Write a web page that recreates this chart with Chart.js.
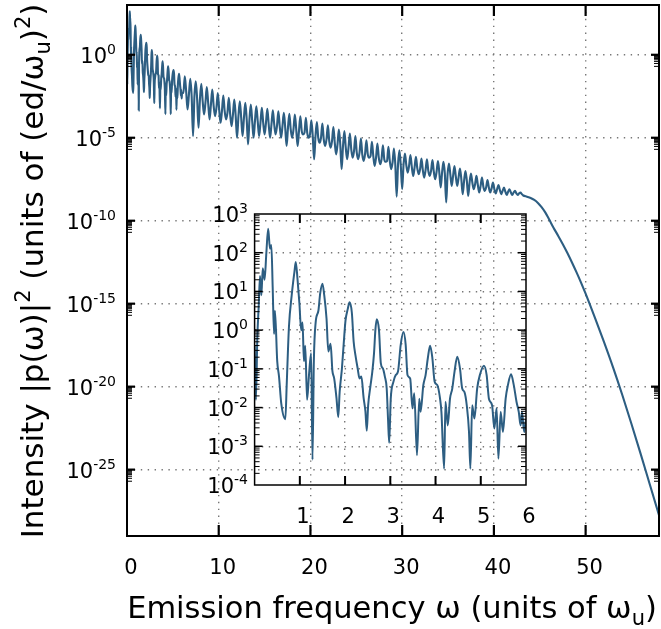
<!DOCTYPE html>
<html>
<head>
<meta charset="utf-8">
<script src="https://cdn.jsdelivr.net/npm/chart.js@4.4.1/dist/chart.umd.min.js"></script>
<style>
  html, body { margin: 0; padding: 0; background: #fff; }
  #wrap { position: relative; width: 661px; height: 629px; }
  canvas { position: absolute; left: 0; top: 0; }
</style>
</head>
<body>
<div id="wrap">
  <canvas id="mainChart" width="661" height="629"></canvas>
  <canvas id="insetChart" width="661" height="629"></canvas>
</div>
<script>
// emission frequency (units of w_u) and log10 of the intensity

// 0..6 (same curve, zoomed)
const insetX = [0,0.03,0.06,0.09,0.12,0.15,0.18,0.22,0.26,0.3,
  0.34,0.37,0.4,0.43,0.45,0.5,0.54,0.59,0.68,0.71,
  0.76,0.82,0.88,0.91,0.95,0.99,1.03,1.06,1.09,1.12,
  1.16,1.2,1.25,1.28,1.31,1.35,1.41,1.45,1.5,1.54,
  1.59,1.63,1.68,1.72,1.76,1.81,1.85,1.88,1.93,1.97,
  2.01,2.06,2.1,2.15,2.19,2.23,2.28,2.32,2.36,2.41,
  2.45,2.48,2.51,2.56,2.6,2.64,2.67,2.7,2.75,2.79,
  2.84,2.88,2.92,2.95,2.975,3.01,3.07,3.12,3.17,3.23,
  3.29,3.34,3.38,3.44,3.49,3.53,3.59,3.64,3.67,3.73,
  3.78,3.83,3.88,3.93,3.98,4.04,4.1,4.13,4.19,4.22,
  4.27,4.32,4.37,4.42,4.48,4.54,4.59,4.64,4.69,4.74,
  4.77,4.81,4.86,4.92,4.98,5.07,5.13,5.18,5.25,5.3,
  5.35,5.39,5.44,5.49,5.55,5.6,5.67,5.73,5.79,5.84,
  5.88,5.91,5.96,6.0];
const insetExp = [-0.4,-1.8,-0.2,0.6,1.4,0.9,1.6,1.3,2.0,2.62,
  2.1,2.2,1.1,-0.1,0.5,-0.8,-1.2,-1.9,-2.3,-1.4,
  0.1,0.9,1.5,1.76,1.3,0.7,0.0,0.2,-0.8,-0.4,
  -1.8,-1.2,-0.6,-3.35,-0.8,0.2,0.5,0.95,1.2,0.9,
  0.3,-0.55,-0.35,-1.05,-1.25,-1.75,-2.25,-1.6,-1.0,-0.35,
  0.25,0.55,0.72,0.45,-0.3,-0.65,-1.0,-1.25,-1.2,-1.75,
  -2.1,-2.6,-1.95,-1.45,-1.1,-0.6,0.0,0.28,0.0,-0.85,
  -1.0,-1.2,-1.5,-2.3,-2.91,-1.77,-1.33,-1.16,-1.07,-0.38,
  -0.05,-0.38,-1.16,-1.25,-2.02,-1.63,-3.23,-1.77,-2.11,-1.42,
  -1.16,-0.72,-0.4,-0.72,-1.33,-1.42,-1.77,-2.11,-3.58,-1.85,
  -2.46,-1.77,-1.51,-1.07,-0.69,-0.99,-1.51,-1.6,-1.94,-2.63,
  -3.58,-1.94,-2.28,-1.51,-1.16,-0.92,-1.16,-1.77,-1.94,-2.54,
  -2.02,-3.32,-2.11,-2.63,-1.77,-1.42,-1.14,-1.42,-1.85,-2.11,
  -2.46,-2.11,-2.63,-2.3];

// 6..43.2 : oscillating part of the main plot
const mainX = [6.15,6.3,6.45,6.6,6.75,6.9,7.05,
  7.2,7.35,7.5,7.65,7.8,7.95,8.1,8.25,
  8.4,8.55,8.7,8.85,9,9.15,9.3,9.45,
  9.6,9.75,9.9,10.05,10.2,10.35,10.5,10.65,
  10.8,10.95,11.1,11.25,11.4,11.55,11.7,11.85,
  12,12.15,12.3,12.45,12.6,12.75,12.9,13.05,
  13.2,13.35,13.5,13.65,13.8,13.95,14.1,14.25,
  14.4,14.55,14.7,14.85,15,15.15,15.3,15.45,
  15.6,15.75,15.9,16.05,16.2,16.35,16.5,16.65,
  16.8,16.95,17.1,17.25,17.4,17.55,17.7,17.85,
  18,18.15,18.3,18.45,18.6,18.75,18.9,19.05,
  19.2,19.35,19.5,19.65,19.8,19.95,20.1,20.25,
  20.4,20.55,20.7,20.85,21,21.15,21.3,21.45,
  21.6,21.75,21.9,22.05,22.2,22.35,22.5,22.65,
  22.8,22.95,23.1,23.25,23.4,23.55,23.7,23.85,
  24,24.15,24.3,24.45,24.6,24.75,24.9,25.05,
  25.2,25.35,25.5,25.65,25.8,25.95,26.1,26.25,
  26.4,26.55,26.7,26.85,27,27.15,27.3,27.45,
  27.6,27.75,27.9,28.05,28.2,28.35,28.5,28.65,
  28.8,28.95,29.1,29.25,29.4,29.55,29.7,29.85,
  30,30.15,30.3,30.45,30.6,30.75,30.9,31.05,
  31.2,31.35,31.5,31.65,31.8,31.95,32.1,32.25,
  32.4,32.55,32.7,32.85,33,33.15,33.3,33.45,
  33.6,33.75,33.9,34.05,34.2,34.35,34.5,34.65,
  34.8,34.95,35.1,35.25,35.4,35.55,35.7,35.85,
  36,36.15,36.3,36.45,36.6,36.75,36.9,37.05,
  37.2,37.35,37.5,37.65,37.8,37.95,38.1,38.25,
  38.4,38.55,38.7,38.85,39,39.15,39.3,39.45,
  39.6,39.75,39.9,40.05,40.2,40.35,40.5,40.65,
  40.8,40.95,41.1,41.25,41.4,41.55,41.7,41.85,
  42,42.15,42.3,42.45,42.6,42.75,42.9,43.05,
  43.2];
const mainExp = [-2.3,-1.3,-2.2,-3.3,-2.4,-1.45,-2.5,
  -4.9,-2.5,-1.6,-2.7,-4.4,-2.7,-1.75,-2.8,
  -3.6,-2.9,-1.95,-2.9,-3.9,-3.0,-2.1,-3.1,
  -3.7,-3.2,-2.3,-3.3,-4.1,-3.4,-2.45,-3.4,
  -3.9,-3.5,-2.6,-3.6,-4.3,-3.6,-2.7,-3.7,
  -5.0,-3.7,-2.8,-3.8,-4.9,-3.8,-2.9,-3.9,
  -5.4,-3.9,-3.0,-4.0,-5.0,-4.0,-3.1,-4.0,
  -4.9,-4.1,-3.2,-4.1,-4.8,-4.1,-3.25,-4.2,
  -5.0,-4.2,-3.35,-4.2,-4.8,-4.3,-3.4,-4.3,
  -5.0,-4.3,-3.5,-4.4,-5.5,-4.4,-3.55,-4.5,
  -5.0,-4.5,-3.6,-4.5,-5.5,-4.6,-3.7,-4.6,
  -4.8,-4.7,-3.8,-4.7,-5.0,-4.8,-3.95,-4.9,
  -6.3,-4.9,-4.05,-5.0,-5.3,-5.0,-4.15,-5.1,
  -5.5,-5.1,-4.25,-5.2,-5.6,-5.2,-4.35,-5.3,
  -6.0,-5.4,-4.5,-5.4,-6.9,-5.5,-4.6,-5.6,
  -6.3,-5.6,-4.75,-5.7,-6.2,-5.8,-4.9,-5.9,
  -6.3,-5.9,-5.05,-6.0,-6.4,-6.0,-5.15,-6.0,
  -6.2,-6.1,-5.25,-6.1,-6.7,-6.2,-5.35,-6.2,
  -6.6,-6.3,-5.45,-6.3,-6.45,-6.4,-5.55,-6.4,
  -6.9,-6.5,-5.65,-6.6,-8.55,-6.6,-5.75,-6.7,
  -8.1,-6.6,-5.95,-6.65,-7.1,-6.7,-6.05,-6.75,
  -7.3,-6.8,-6.15,-6.85,-7.2,-6.9,-6.25,-6.95,
  -7.4,-6.95,-6.3,-7.0,-7.3,-7.0,-6.35,-7.05,
  -7.5,-7.05,-6.4,-7.1,-8.0,-7.1,-6.45,-7.15,
  -8.9,-7.2,-6.55,-7.2,-7.9,-7.3,-6.7,-7.35,
  -7.9,-7.4,-6.85,-7.5,-8.4,-7.6,-7.0,-7.6,
  -8.5,-7.7,-7.15,-7.7,-8.1,-7.8,-7.3,-7.85,
  -8.3,-7.9,-7.4,-7.95,-8.2,-8.0,-7.55,-8.0,
  -8.3,-8.05,-7.7,-8.1,-8.35,-8.1,-7.85,-8.15,
  -8.4,-8.2,-8.0,-8.25,-8.45,-8.25,-8.1,-8.3,
  -8.45,-8.3,-8.2,-8.35,-8.45,-8.35,-8.3,-8.4,
  -8.48];

// smooth fall-off above 43
const tailX = [43.6,44,44.4,44.8,45.2,45.6,46,46.5,47,47.5,48,48.5,49,49.5,50,50.5,51,52,53,54,55,56,57,58];
const tailExp = [-8.55,-8.63,-8.75,-8.93,-9.18,-9.5,-9.9,-10.42,-10.9,-11.4,-11.93,-12.5,-13.1,-13.73,-14.4,-15.1,-15.82,-17.3,-18.85,-20.5,-22.25,-24.05,-25.9,-27.75];

// tick values and labels
const mainXTicks = [0, 10, 20, 30, 40, 50];
const mainYExps = [0, -5, -10, -15, -20, -25];
const insetXTicks = [1, 2, 3, 4, 5, 6];
const insetYExps = [3, 2, 1, 0, -1, -2, -3, -4];

const lineColor = '#2d5e82';
const gridColor = '#777777';
const FONT = '"DejaVu Sans"';

function drawRich(ctx, parts, x, y, size, align) {
  const fonts = parts.map(p => (p[1] ? Math.round(size * 0.68) : size) + 'px ' + FONT);
  let total = 0;
  const widths = parts.map((p, i) => {
    ctx.font = fonts[i];
    const w = ctx.measureText(p[0]).width;
    total += w;
    return w;
  });
  let cx = align === 'right' ? x - total : align === 'center' ? x - total / 2 : x;
  ctx.textAlign = 'left';
  ctx.textBaseline = 'alphabetic';
  parts.forEach((p, i) => {
    ctx.font = fonts[i];
    const dy = p[1] === 1 ? -size * 0.42 : p[1] === -1 ? size * 0.22 : 0;
    ctx.fillText(p[0], cx, y + dy);
    cx += widths[i];
  });
}

function seg(ctx, x1, y1, x2, y2) {
  ctx.beginPath();
  ctx.moveTo(x1, y1);
  ctx.lineTo(x2, y2);
  ctx.stroke();
}

// frame, inward ticks and labels drawn on top of the chart
function framePlugin(spec) {
  return {
    id: 'frame_' + spec.name,
    afterDraw(chart) {
      const ctx = chart.ctx, a = chart.chartArea;
      const xs = chart.scales.x, ys = chart.scales.y;
      ctx.save();
      ctx.strokeStyle = '#000';
      ctx.fillStyle = '#000';

      ctx.lineWidth = spec.xTickWidth;
      spec.xTickMarks.forEach(v => {
        const px = xs.getPixelForValue(v);
        seg(ctx, px, a.top, px, a.top + spec.xTickLen);
        seg(ctx, px, a.bottom, px, a.bottom - spec.xTickLen);
      });
      ctx.lineWidth = spec.yTickWidth;
      spec.yMajor.forEach(e => {
        const py = ys.getPixelForValue(Math.pow(10, e));
        seg(ctx, a.left, py, a.left + spec.yTickLen, py);
        seg(ctx, a.right, py, a.right - spec.yTickLen, py);
      });
      ctx.lineWidth = 1;
      spec.yMinorDecades.forEach(e => {
        for (let k = 2; k <= 9; k++) {
          const py = ys.getPixelForValue(k * Math.pow(10, e));
          seg(ctx, a.left, py, a.left + spec.yMinorLen, py);
          seg(ctx, a.right, py, a.right - spec.yMinorLen, py);
        }
      });

      ctx.lineWidth = spec.frameWidth;
      ctx.strokeRect(a.left, a.top, a.right - a.left, a.bottom - a.top);

      spec.yLabels.forEach(e => {
        const py = ys.getPixelForValue(Math.pow(10, e));
        drawRich(ctx, [['10', 0], [String(e), 1]], spec.yLabelRight, py + 8, spec.fontSize, 'right');
      });
      spec.xLabels.forEach(v => {
        const px = xs.getPixelForValue(v);
        drawRich(ctx, [[String(v), 0]], px + spec.xLabelShift, spec.xLabelBase, spec.fontSize, 'center');
      });
      if (spec.titles) spec.titles(ctx);
      ctx.restore();
    }
  };
}

function makeChart(id, xs, exps, cfg) {
  const points = xs.map((x, i) => ({ x: x, y: Math.pow(10, exps[i]) }));
  return new Chart(document.getElementById(id), {
    type: 'scatter',
    data: {
      datasets: [{
        data: points,
        showLine: true,
        borderColor: lineColor,
        borderWidth: cfg.lineWidth,
        pointRadius: 0,
        cubicInterpolationMode: 'monotone',
        fill: false
      }]
    },
    options: {
      responsive: false,
      animation: false,
      events: [],
      layout: { padding: cfg.pad },
      plugins: { legend: { display: false }, tooltip: { enabled: false } },
      scales: {
        x: {
          type: 'linear', min: cfg.xMin, max: cfg.xMax,
          afterBuildTicks: s => { s.ticks = cfg.xGrid.map(v => ({ value: v })); },
          ticks: { display: false },
          grid: { color: gridColor, lineWidth: 1.4, drawTicks: false },
          border: { display: false, dash: [1.4, 5.5] }
        },
        y: {
          type: 'logarithmic', min: cfg.yMin, max: cfg.yMax,
          afterBuildTicks: s => { s.ticks = cfg.yGrid.map(e => ({ value: Math.pow(10, e) })); },
          ticks: { display: false },
          grid: { color: gridColor, lineWidth: 1.4, drawTicks: false },
          border: { display: false, dash: [1.4, 5.5] }
        }
      }
    },
    plugins: [framePlugin(cfg.spec)]
  });
}

makeChart('mainChart', insetX.concat(mainX, tailX), insetExp.concat(mainExp, tailExp), {
  pad: { left: 127, top: 5, right: 2, bottom: 93 },
  xMin: 0, xMax: 58, yMin: 1e-29, yMax: 1e3,
  xGrid: [10, 20, 30, 40, 50],
  yGrid: mainYExps,
  lineWidth: 2.1,
  spec: {
    name: 'main',
    xTickMarks: [10, 20, 30, 40, 50], xTickLen: 11, xTickWidth: 2.2,
    yMajor: mainYExps, yTickLen: 8, yTickWidth: 2.2,
    yMinorDecades: mainYExps.map(e => e - 1), yMinorLen: 5,
    frameWidth: 2,
    yLabels: mainYExps, yLabelRight: 116,
    xLabels: mainXTicks, xLabelShift: 4, xLabelBase: 574,
    fontSize: 21,
    titles: ctx => {
      drawRich(ctx, [['Emission frequency ω (units of ω', 0], ['u', -1], [')', 0]], 392, 618, 30.5, 'center');
      ctx.save();
      ctx.translate(43, 271);
      ctx.rotate(-Math.PI / 2);
      drawRich(ctx, [['Intensity |p(ω)|', 0], ['2', 1], [' (units of (ed/ω', 0], ['u', -1], [')', 0], ['2', 1], [')', 0]], 0, 0, 31, 'center');
      ctx.restore();
    }
  }
});

makeChart('insetChart', insetX, insetExp, {
  pad: { left: 254.6, top: 214, right: 135, bottom: 144 },
  xMin: 0, xMax: 6, yMin: 1e-4, yMax: 1e3,
  xGrid: [1, 2, 3, 4, 5],
  yGrid: [2, 1, 0, -1, -2, -3],
  lineWidth: 2,
  spec: {
    name: 'inset',
    xTickMarks: [1, 2, 3, 4, 5], xTickLen: 9, xTickWidth: 2,
    yMajor: [2, 1, 0, -1, -2, -3], yTickLen: 8, yTickWidth: 1.5,
    yMinorDecades: [-4, -3, -2, -1, 0, 1, 2], yMinorLen: 5,
    frameWidth: 1.5,
    yLabels: insetYExps, yLabelRight: 248,
    xLabels: insetXTicks, xLabelShift: 3, xLabelBase: 523,
    fontSize: 21
  }
});
</script>
</body>
</html>
